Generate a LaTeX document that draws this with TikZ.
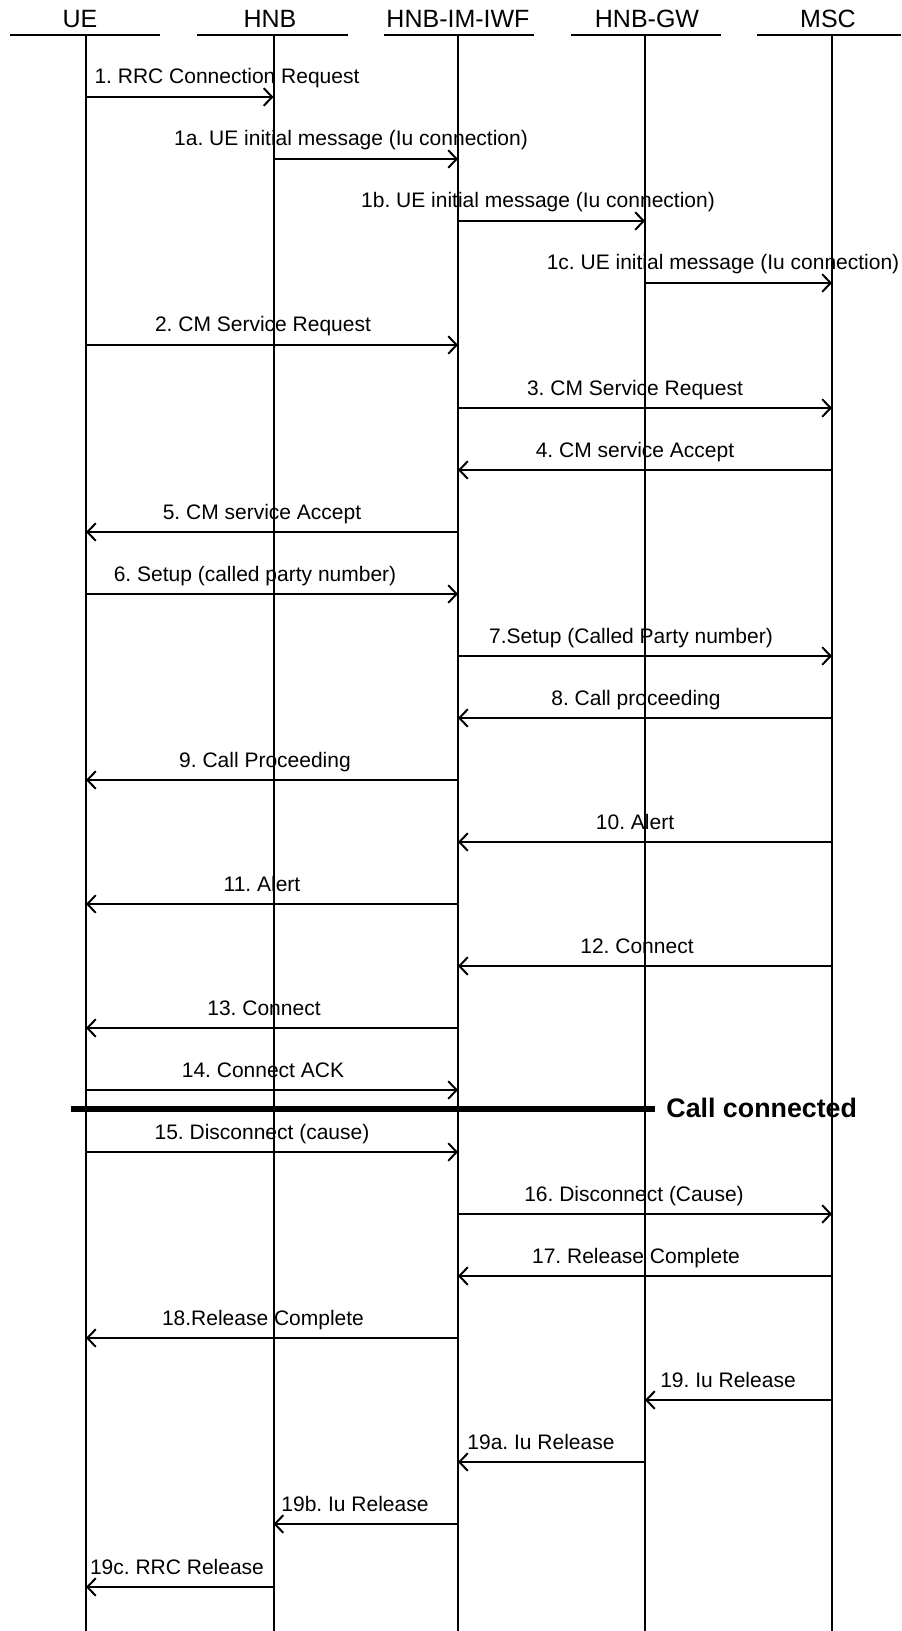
\documentclass[tikz,border=0pt]{standalone}
\usepackage{fontspec}
\setmainfont{Liberation Sans}
\usetikzlibrary{arrows.meta}
\frenchspacing
\def\xUE{86}\def\xHNB{273.5}\def\xIWF{458}\def\xGW{645}\def\xMSC{832}
\newcommand\mymsg[6]{%
  \coordinate (m#1a) at (#2,#4);
  \coordinate (m#1b) at (#3,#4);
  \draw[msgline] (m#1a) -- (m#1b);
  \node[lbl] (l#1) at (#5,#4-13) {#6};}
\begin{document}
\begin{tikzpicture}[x=0.5pt,y=-0.5pt,
  hdr/.style={font=\fontsize{12.5}{14}\selectfont, anchor=base, inner sep=0pt},
  lbl/.style={font=\fontsize{10.5}{12}\selectfont\frenchspacing, anchor=base, inner sep=0pt},
  msgline/.style={line width=1pt, -{Straight Barb[length=4.2pt,width=8.8pt,line width=1pt]}},
  life/.style={line width=1pt},
  hline/.style={line width=1.2pt},
]
\useasboundingbox (0,0) rectangle (901,1631);
% headers
\node[hdr] (UE) at (80,28) {UE};
\node[hdr] (HNB) at (270,28) {HNB};
\node[hdr] (IWF) at (458,28) {HNB-IM-IWF};
\node[hdr] (GW) at (647,28) {HNB-GW};
\node[hdr] (MSC) at (828,28) {MSC};
\draw[hline] (10,35) -- (160,35);
\draw[hline] (197,35) -- (348,35);
\draw[hline] (384,35) -- (534,35);
\draw[hline] (571,35) -- (721,35);
\draw[hline] (757,35) -- (901,35);
% lifelines
\foreach \n/\x in {ue/\xUE,hnb/\xHNB,iwf/\xIWF,gw/\xGW,msc/\xMSC}{
  \coordinate (\n T) at (\x,35);
  \coordinate (\n B) at (\x,1631);
  \draw[life] (\n T) -- (\n B);
}
% messages
\mymsg{1}{\xUE}{\xHNB}{97}{227}{1. RRC Connection Request}
\mymsg{1a}{\xHNB}{\xIWF}{159}{351}{1a. UE initial message (Iu connection)}
\mymsg{1b}{\xIWF}{\xGW}{221}{538}{1b. UE initial message (Iu connection)}
\mymsg{1c}{\xGW}{\xMSC}{283}{723}{1c. UE initial message (Iu connection)}
\mymsg{2}{\xUE}{\xIWF}{345}{263}{2. CM Service Request}
\mymsg{3}{\xIWF}{\xMSC}{408}{635}{3. CM Service Request}
\mymsg{4}{\xMSC}{\xIWF}{470}{635}{4. CM service Accept}
\mymsg{5}{\xIWF}{\xUE}{532}{262}{5. CM service Accept}
\mymsg{6}{\xUE}{\xIWF}{594}{255}{6. Setup (called party number)}
\mymsg{7}{\xIWF}{\xMSC}{656}{631}{7.Setup (Called Party number)}
\mymsg{8}{\xMSC}{\xIWF}{718}{636}{8. Call proceeding}
\mymsg{9}{\xIWF}{\xUE}{780}{265}{9. Call Proceeding}
\mymsg{10}{\xMSC}{\xIWF}{842}{635}{10. Alert}
\mymsg{11}{\xIWF}{\xUE}{904}{262}{11. Alert}
\mymsg{12}{\xMSC}{\xIWF}{966}{637}{12. Connect}
\mymsg{13}{\xIWF}{\xUE}{1028}{264}{13. Connect}
\mymsg{14}{\xUE}{\xIWF}{1090}{263}{14. Connect ACK}
% call connected
\coordinate (ccA) at (71,1109);
\coordinate (ccB) at (655,1109);
\draw[line width=2.6pt] (ccA) -- (ccB);
\node[font=\bfseries\fontsize{13.4}{15}\selectfont, anchor=base west, inner sep=0pt] (cc) at (666,1117) {Call connected};
\mymsg{15}{\xUE}{\xIWF}{1152}{262}{15. Disconnect (cause)}
\mymsg{16}{\xIWF}{\xMSC}{1214}{634}{16. Disconnect (Cause)}
\mymsg{17}{\xMSC}{\xIWF}{1276}{636}{17. Release Complete}
\mymsg{18}{\xIWF}{\xUE}{1338}{263}{18.Release Complete}
\mymsg{19}{\xMSC}{\xGW}{1400}{728}{19. Iu Release}
\mymsg{19x}{\xGW}{\xIWF}{1462}{541}{19a. Iu Release}
\mymsg{19y}{\xIWF}{\xHNB}{1524}{355}{19b. Iu Release}
\mymsg{19z}{\xHNB}{\xUE}{1587}{177}{19c. RRC Release}
\end{tikzpicture}
\end{document}
